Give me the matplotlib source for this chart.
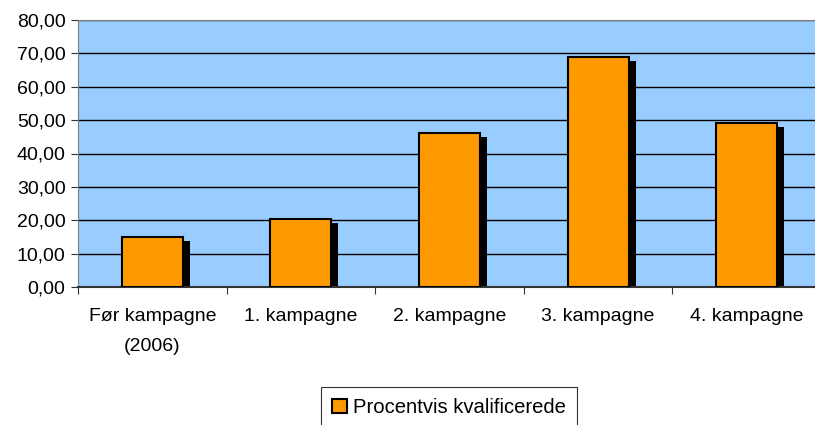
import matplotlib
matplotlib.use('Agg')
import matplotlib.pyplot as plt
import matplotlib.transforms as mtransforms
import numpy as np

# data
categories = ['Før kampagne\n(2006)', '1. kampagne', '2. kampagne', '3. kampagne', '4. kampagne']
values = [15.1, 20.3, 46.2, 68.8, 49.0]
series_name = 'Procentvis kvalificerede'
yticks = [0, 10, 20, 30, 40, 50, 60, 70, 80]

plt.rcParams['font.family'] = ['Liberation Sans', 'DejaVu Sans']

fig = plt.figure(figsize=(8.15, 4.25), dpi=100)
ax = fig.add_axes([78 / 815, 138 / 425, 743 / 815, 267 / 425])
ax.set_facecolor('#99CCFF')

x = np.arange(len(categories))
w = 0.41

# shadow behind each bar
shadow_tr = mtransforms.offset_copy(ax.transData, fig=fig, x=7, y=-4, units='dots')
ax.bar(x, values, w, color='black', transform=shadow_tr, zorder=2)
ax.bar(x, values, w, color='#FF9900', edgecolor='black', linewidth=1.5,
       zorder=3, label=series_name)

ax.set_xlim(-0.5, len(categories) - 0.5)
ax.set_ylim(0, 80)
ax.set_yticks(yticks)
ax.set_yticklabels(['%d,00' % v for v in yticks], fontsize=14)
ax.yaxis.grid(True, color='black', linewidth=1)
ax.set_axisbelow(True)

# category labels between tick marks at boundaries
ax.set_xticks(np.arange(len(categories) + 1) - 0.5)
ax.set_xticklabels([])
ax.set_xticks(x, minor=True)
ax.set_xticklabels(categories, minor=True, fontsize=14, linespacing=2.0)
ax.tick_params(axis='x', which='minor', length=0, pad=15)
ax.tick_params(axis='x', which='major', length=5, color='#333333')
ax.tick_params(axis='y', length=5, color='#333333', pad=4)

for s in ['top', 'left']:
    ax.spines[s].set_color('#808080')
ax.spines['right'].set_visible(False)
ax.spines['bottom'].set_color('#333333')
ax.spines['bottom'].set_linewidth(1.5)

leg = fig.legend(loc='upper center', bbox_to_anchor=(449 / 815, 1 - 387 / 425),
                 fontsize=14.6, frameon=True, fancybox=False, edgecolor='black',
                 handlelength=0.7, handleheight=0.7, handletextpad=0.3,
                 borderpad=0.55, borderaxespad=0)
leg.get_frame().set_linewidth(0.8)

fig.savefig('out.png', dpi=100)
